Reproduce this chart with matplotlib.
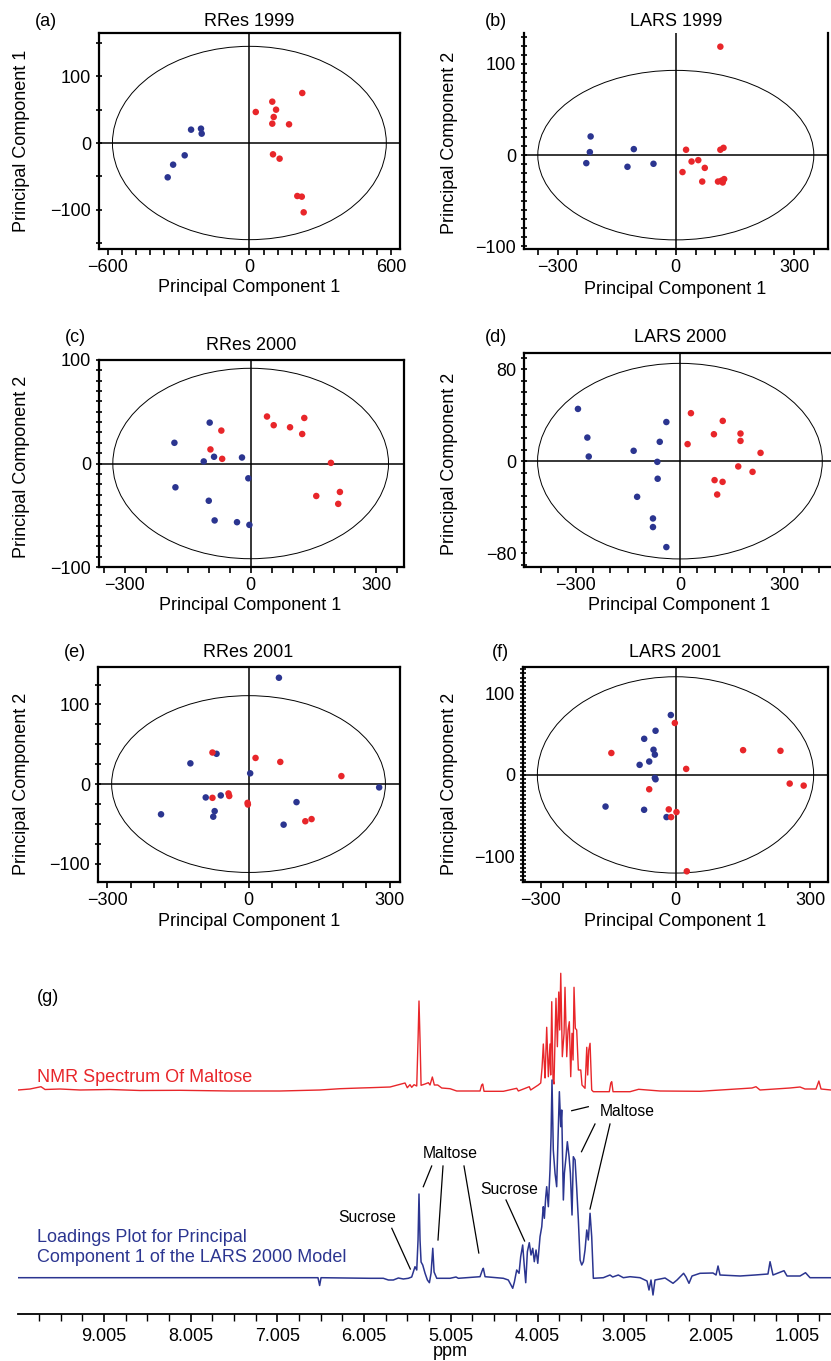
import matplotlib
matplotlib.use('Agg')
import matplotlib.pyplot as plt
from matplotlib.patches import Ellipse
from matplotlib.lines import Line2D
from matplotlib.ticker import MultipleLocator, FixedLocator

plt.rcParams['font.family'] = ['Liberation Sans', 'DejaVu Sans']
plt.rcParams['axes.unicode_minus'] = True

# ---------------- data ----------------
titles = ['RRes 1999', 'LARS 1999', 'RRes 2000', 'LARS 2000', 'RRes 2001', 'LARS 2001']
panel_tags = ['(a)', '(b)', '(c)', '(d)', '(e)', '(f)']
ylabels = ['Principal Component 1', 'Principal Component 2', 'Principal Component 2',
           'Principal Component 2', 'Principal Component 2', 'Principal Component 2']
xlabel_text = 'Principal Component 1'

a_blue_x = [-247, -205, -202, -274, -323, -346]
a_blue_y = [20, 21.5, 14, -18.5, -32.5, -51.5]
a_red_x = [224, 27, 97, 113, 103, 97, 168, 100, 128, 203, 222, 230]
a_red_y = [75, 46.5, 62, 50, 39, 29, 28, -17, -23.5, -79.5, -80.5, -104]

b_blue_x = [-216, -218, -227, -106.5, -122.6, -56.6]
b_blue_y = [20.5, 3.3, -8.8, 6.6, -12.8, -9.5]
b_red_x = [113, 26, 113, 121, 40, 57, 73.5, 17, 67, 107, 119, 122.6, 116]
b_red_y = [119, 5.9, 5.9, 8, -7, -5.5, -14, -18.6, -29, -29, -30, -26.3, -28]

c_blue_x = [-97.8, -182, -87.4, -112, -20.7, -5.6, -179.6, -100, -86, -32.6, -3]
c_blue_y = [39.5, 20, 6.5, 2, 5.8, -14.3, -23, -36, -55, -56.7, -59.3]
c_red_x = [-70, -96, -68, 39, 55, 94, 128, 123, 191.6, 156.6, 213, 209]
c_red_y = [31.8, 13.6, 4.5, 45.4, 37, 35, 44, 28.5, 0.6, -31.4, -27.5, -39]

d_blue_x = [-293, -266, -262, -133, -65, -58, -39, -64, -123, -77.5, -77.5, -39]
d_blue_y = [45.4, 20.5, 4, 9, -0.6, 16.8, 34, -15.3, -31, -49.8, -57.3, -74.7]
d_red_x = [31.6, 22, 97.6, 123, 174, 174, 231.6, 167.5, 208.6, 99.5, 122.5, 107]
d_red_y = [41.7, 14.8, 23.4, 35, 24, 17.6, 7.2, -4.6, -9.3, -16.5, -18, -29]

e_blue_x = [64.6, -123.6, -68, 3.5, -91, -59, -72, -75, -186, 102, 74.6, 277.7]
e_blue_y = [133.5, 26, 38, 13.5, -16.8, -14.3, -34, -41, -38, -22.7, -51, -4.2]
e_red_x = [-76.7, 14.9, 67.5, 197.4, -76.7, -42.6, -41, -2, -1.4, 120.7, 134]
e_red_y = [39.6, 32.8, 27.8, 10, -17.3, -11.8, -15, -23.6, -25.7, -46.7, -44]

f_blue_x = [-10.4, -44.5, -69.8, -49, -46, -58.6, -80, -46, -44.5, -156, -70, -20]
f_blue_y = [73.8, 54.4, 44.5, 31, 25, 16.5, 12.4, -3.7, -5.4, -39, -43, -52]
f_red_x = [-1.5, -143, 150.7, 234, 23.8, 254.6, 285.8, -58.6, -15, 2.2, -9.7, 25.2]
f_red_y = [64, 27, 30.5, 29.7, 7.4, -10.7, -13.2, -17.7, -42.5, -45.8, -52, -118.8]

# confidence ellipse semi-axes (PC1, PC2)
ellipse_axes = [(580, 145), (350, 93), (329, 92), (409, 85), (291, 111), (308, 121)]

# NMR spectrum of maltose: (ppm, intensity)
red_trace = [
    (9.997, 1), (9.858, 2), (9.732, 4.3), (9.685, 1.5), (9.512, 2), (9.282, 1), (8.936, 1.5),
    (8.590, 0.5), (8.128, 0.7), (7.552, 0), (6.975, 0), (6.514, 1), (6.283, 2.3), (6.052, 3),
    (5.937, 3.3), (5.706, 4), (5.533, 8), (5.507, 3.3), (5.476, 6.3), (5.456, 3.7), (5.429, 6.3),
    (5.398, 5), (5.383, 51), (5.372, 90), (5.360, 51), (5.348, 5.7), (5.302, 7), (5.264, 8.3),
    (5.245, 6), (5.218, 14), (5.195, 6), (5.156, 6), (5.110, 3), (5.014, 2.3), (4.937, 0),
    (4.668, 0), (4.649, 6), (4.637, 7), (4.622, -0.3), (4.399, -0.3), (4.245, 2.7), (4.226, 0),
    (4.100, 4.3), (4.084, 1), (3.996, 6), (3.968, 8), (3.953, 23), (3.938, 47), (3.926, 26),
    (3.918, 13), (3.899, 63.7), (3.880, 14.3), (3.861, 47), (3.853, 16), (3.841, 89.3),
    (3.826, 11), (3.815, 7), (3.792, 92.7), (3.776, 44.3), (3.760, 99), (3.749, 61),
    (3.737, 117.7), (3.719, 34.3), (3.699, 57.7), (3.688, 103.7), (3.668, 34.3), (3.653, 61),
    (3.638, 69.3), (3.622, 14.3), (3.607, 57.7), (3.595, 31), (3.584, 103.7), (3.569, 62.7),
    (3.553, 61), (3.534, 21), (3.506, 21), (3.492, 6), (3.457, 2.7), (3.437, 43.7), (3.426, 16),
    (3.414, 41), (3.399, 47.7), (3.380, 1), (3.361, -0.7), (3.177, -0.7), (3.160, 8),
    (3.149, 9.3), (3.134, -0.7), (2.938, -0.7), (2.839, 1.7), (2.592, 0), (2.131, -0.3),
    (1.531, 3), (1.485, 4.3), (1.439, 1), (1.093, 3), (0.977, 4), (0.920, 2), (0.793, 2),
    (0.760, 10), (0.735, 2), (0.620, 1)]

# PC1 loadings of the LARS 2000 model: (ppm, loading)
blue_trace = [
    (9.997, 0.3), (7.898, 0.3), (6.537, 0.3), (6.518, -7.5), (6.502, 0.3), (5.937, -0.3),
    (5.783, -0.3), (5.725, -2), (5.668, -2), (5.610, 0), (5.553, -1), (5.495, -0.3), (5.456, 1),
    (5.418, 11.3), (5.398, 8), (5.383, 38), (5.372, 84), (5.360, 38), (5.348, 16), (5.329, 13),
    (5.302, 4.7), (5.275, -2), (5.252, -4.7), (5.233, 4.7), (5.213, 29.7), (5.198, 6),
    (5.167, -0.3), (5.014, -0.3), (4.945, 1), (4.918, -0.3), (4.668, 1.3), (4.641, 8),
    (4.630, 9.7), (4.610, 1.3), (4.399, -0.3), (4.342, -2), (4.311, -7), (4.291, -10.3),
    (4.272, -4), (4.245, 8), (4.218, 4.7), (4.199, 21.3), (4.176, 33), (4.157, 11.3),
    (4.141, -4.7), (4.122, 26.3), (4.100, 35.3), (4.080, 23), (4.060, 29.7), (4.042, 16.3),
    (4.022, 28), (4.002, 14.7), (3.976, 41.3), (3.956, 51.3), (3.945, 64.7), (3.938, 71.3),
    (3.926, 59.7), (3.910, 81.3), (3.899, 91.3), (3.880, 71.3), (3.861, 108), (3.849, 141.3),
    (3.838, 198), (3.823, 128), (3.803, 104.7), (3.784, 91.3), (3.769, 138), (3.753, 186.3),
    (3.737, 151.3), (3.726, 168), (3.707, 78), (3.695, 104.7), (3.676, 121.3), (3.661, 136.3),
    (3.641, 121.3), (3.626, 104.7), (3.607, 63), (3.592, 121.3), (3.572, 118), (3.553, 89.7),
    (3.534, 58), (3.514, 18), (3.495, 13), (3.476, 16.3), (3.457, 28), (3.437, 48),
    (3.419, 38), (3.399, 64.7), (3.380, 41.3), (3.361, -0.3), (3.246, 0.3), (3.169, 3),
    (3.138, 1), (3.073, 3), (3.015, 0.3), (2.938, 1.3), (2.823, 0.3), (2.742, -3),
    (2.719, -12), (2.696, -2), (2.673, -17), (2.650, -2), (2.534, 0), (2.442, -5.3),
    (2.396, -2), (2.320, 4.7), (2.292, 1), (2.258, -5.3), (2.223, 2), (2.131, 4.7),
    (1.981, 5), (1.946, 3), (1.923, 12), (1.900, 3), (1.669, 2), (1.497, 3), (1.347, 4),
    (1.323, 16.3), (1.289, 3), (1.162, 7.3), (1.127, 2), (0.977, 2), (0.914, 5.3),
    (0.862, 0.3), (0.620, 0.3)]

ppm_ticks = [9.005, 8.005, 7.005, 6.005, 5.005, 4.005, 3.005, 2.005, 1.005]
ppm_ticklabels = ['9.005', '8.005', '7.005', '6.005', '5.005', '4.005', '3.005', '2.005', '1.005']

# ---------------- style / layout ----------------
W, H = 831, 1361
RED = '#e8262a'
BLUE = '#2b3590'
FS = 13

fig = plt.figure(figsize=(W / 100, H / 100), dpi=100)


def fx(x):
    return x / W


def fy(y):
    return 1 - y / H


def px_axes(l, t, r, b):
    return fig.add_axes([l / W, 1 - b / H, (r - l) / W, (b - t) / H])


panels = [
    dict(box=(99, 33, 400, 249), xlim=(-637, 638), ylim=(-159, 165), xt=[-600, 0, 600], yt=[-100, 0, 100],
         xm=60, ym=50, hide=[], title=(249, 22), tag=(46, 22), yl=(22, 141), xl=(249, 287),
         blue=(a_blue_x, a_blue_y), red=(a_red_x, a_red_y)),
    dict(box=(524, 33, 828, 249), xlim=(-385, 386), ylim=(-103, 134), xt=[-300, 0, 300], yt=[-100, 0, 100],
         xm=50, ym=10, hide=['top'], title=(676, 22), tag=(496, 22), yl=(449, 143), xl=(675, 289),
         blue=(b_blue_x, b_blue_y), red=(b_red_x, b_red_y)),
    dict(box=(99, 360, 404, 567), xlim=(-362, 366), ylim=(-100, 100), xt=[-300, 0, 300], yt=[-100, 0, 100],
         xm=50, ym=10, hide=[], title=(251, 345), tag=(75, 337), yl=(22, 467), xl=(250, 606),
         blue=(c_blue_x, c_blue_y), red=(c_red_x, c_red_y)),
    dict(box=(524, 353, 831, 567), xlim=(-448, 434), ylim=(-92, 94), xt=[-300, 0, 300], yt=[-80, 0, 80],
         xm=50, ym=10, hide=['right'], title=(680, 337), tag=(496, 337), yl=(449, 464), xl=(679, 606),
         blue=(d_blue_x, d_blue_y), red=(d_red_x, d_red_y)),
    dict(box=(98, 667, 400, 882), xlim=(-320, 322), ylim=(-123, 147), xt=[-300, 0, 300], yt=[-100, 0, 100],
         xm=50, ym=25, hide=[], title=(248, 652), tag=(75, 652), yl=(22, 784), xl=(249, 922),
         blue=(e_blue_x, e_blue_y), red=(e_red_x, e_red_y)),
    dict(box=(523, 667, 828, 882), xlim=(-340, 340), ylim=(-132, 133), xt=[-300, 0, 300], yt=[-100, 0, 100],
         xm=50, ym=5, hide=[], title=(675, 652), tag=(500, 652), yl=(449, 784), xl=(675, 922),
         blue=(f_blue_x, f_blue_y), red=(f_red_x, f_red_y)),
]

for i, p in enumerate(panels):
    ax = px_axes(*p['box'])
    ax.set_xlim(*p['xlim'])
    ax.set_ylim(*p['ylim'])
    for s in ax.spines.values():
        s.set_linewidth(1.6)
    for s in p['hide']:
        ax.spines[s].set_visible(False)
    ax.axhline(0, color='black', lw=1.1, zorder=1)
    ax.axvline(0, color='black', lw=1.1, zorder=1)
    w, h = ellipse_axes[i]
    ax.add_patch(Ellipse((0, 0), 2 * w, 2 * h, fill=False, edgecolor='black', lw=0.7, zorder=1))
    ax.scatter(*p['blue'], s=22, color=BLUE, edgecolors='none', zorder=3)
    ax.scatter(*p['red'], s=22, color=RED, edgecolors='none', zorder=3)
    ax.xaxis.set_major_locator(FixedLocator(p['xt']))
    ax.yaxis.set_major_locator(FixedLocator(p['yt']))
    ax.xaxis.set_minor_locator(MultipleLocator(p['xm']))
    ax.yaxis.set_minor_locator(MultipleLocator(p['ym']))
    ax.tick_params(axis='x', which='both', direction='out', length=4, width=1.2, labelsize=FS, pad=3)
    ax.tick_params(axis='y', which='both', direction='inout', length=5, width=1.2, labelsize=FS, pad=3)
    fig.text(fx(p['title'][0]), fy(p['title'][1]), titles[i], ha='center', va='center', fontsize=FS)
    fig.text(fx(p['tag'][0]), fy(p['tag'][1]), panel_tags[i], ha='center', va='center', fontsize=FS)
    fig.text(fx(p['yl'][0]), fy(p['yl'][1]), ylabels[i], ha='center', va='center', rotation=90, fontsize=FS)
    fig.text(fx(p['xl'][0]), fy(p['xl'][1]), xlabel_text, ha='center', va='center', fontsize=FS)

# ---------------- spectrum panel (g) ----------------
axg = px_axes(18, 960, 831, 1314)
red_ppm = [t[0] for t in red_trace]
red_int = [t[1] for t in red_trace]
blue_ppm = [t[0] for t in blue_trace]
blue_int = [t[1] for t in blue_trace]
RED_OFF, BLUE_OFF = 223, 36
axg.plot(red_ppm, [v + RED_OFF for v in red_int], color=RED, lw=1.0)
axg.plot(blue_ppm, [v + BLUE_OFF for v in blue_int], color=BLUE, lw=1.1)
axg.set_xlim(9.997, 0.620)
axg.set_ylim(0, 354)
for s in ['left', 'top', 'right']:
    axg.spines[s].set_visible(False)
axg.spines['bottom'].set_linewidth(1.3)
axg.set_yticks([])
axg.xaxis.set_major_locator(FixedLocator(ppm_ticks))
axg.set_xticklabels(ppm_ticklabels)
axg.xaxis.set_minor_locator(MultipleLocator(0.25, offset=0.005))
axg.tick_params(axis='x', which='major', direction='out', length=6, width=1.2, labelsize=FS, pad=4)
axg.tick_params(axis='x', which='minor', direction='out', length=5, width=1.0)
fig.text(fx(450), fy(1351), 'ppm', ha='center', va='center', fontsize=FS)
fig.text(fx(48), fy(998), '(g)', ha='center', va='center', fontsize=FS)
fig.text(fx(37), fy(1077), 'NMR Spectrum Of Maltose', ha='left', va='center', fontsize=FS, color=RED)
fig.text(fx(37), fy(1238), 'Loadings Plot for Principal', ha='left', va='center', fontsize=FS, color=BLUE)
fig.text(fx(37), fy(1258), 'Component 1 of the LARS 2000 Model', ha='left', va='center', fontsize=FS, color=BLUE)

AFS = 11.3
fig.text(fx(600), fy(1111), 'Maltose', ha='left', va='center', fontsize=AFS)
fig.text(fx(423), fy(1154), 'Maltose', ha='left', va='center', fontsize=AFS)
fig.text(fx(480), fy(1190), 'Sucrose', ha='left', va='center', fontsize=AFS)
fig.text(fx(338), fy(1218), 'Sucrose', ha='left', va='center', fontsize=AFS)

leader_lines = [
    ((571.7, 1110.7), (588.3, 1106.7)),
    ((595, 1124), (581.5, 1151.7)),
    ((610, 1124), (590, 1209)),
    ((431.7, 1166), (423.3, 1186.7)),
    ((443, 1166), (438, 1240)),
    ((464, 1166), (478.8, 1253)),
    ((506, 1200), (524.6, 1241)),
    ((391.8, 1228.3), (410.3, 1269)),
]
for (x0, y0), (x1, y1) in leader_lines:
    fig.add_artist(Line2D([fx(x0), fx(x1)], [fy(y0), fy(y1)], transform=fig.transFigure,
                          color='black', lw=0.9))

fig.savefig('out.png', dpi=100)
